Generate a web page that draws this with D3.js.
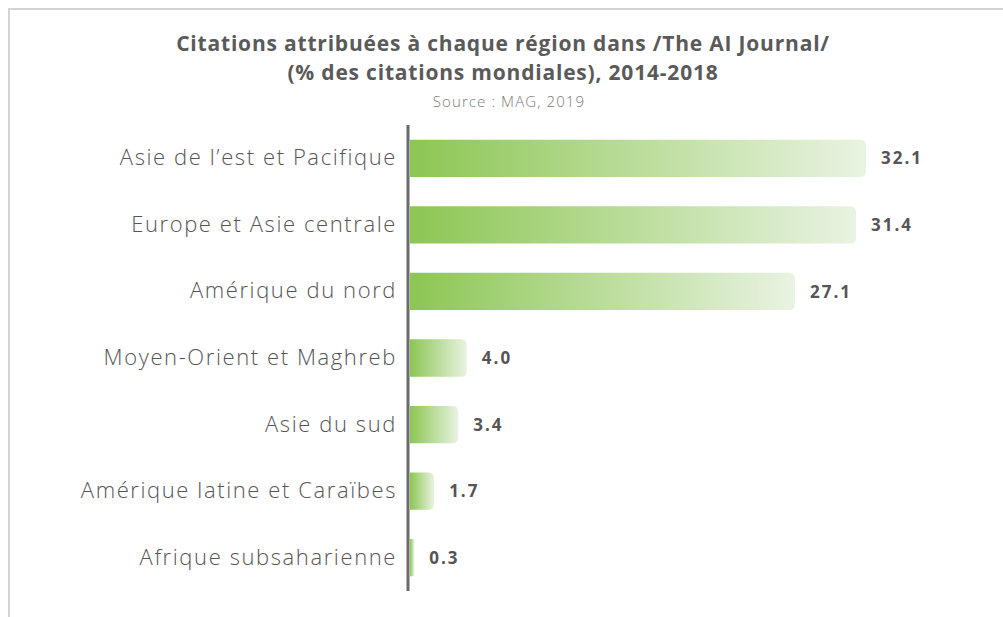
<!DOCTYPE html>
<html>
<head>
<meta charset="utf-8">
<script src="https://cdn.jsdelivr.net/npm/d3@7"></script>
<style>
  body { margin: 0; background: #fff; }
</style>
</head>
<body>
<div id="chart"></div>
<script>
const regions = [
  "Asie de l\u2019est et Pacifique",
  "Europe et Asie centrale",
  "Amérique du nord",
  "Moyen-Orient et Maghreb",
  "Asie du sud",
  "Amérique latine et Caraïbes",
  "Afrique subsaharienne"
];
const shares = [32.1, 31.4, 27.1, 4.0, 3.4, 1.7, 0.3];
const titleLines = [
  "Citations attribuées à chaque région dans /The AI Journal/",
  "(% des citations mondiales), 2014-2018"
];
const source = "Source : MAG, 2019";

const data = regions.map((r, i) => ({region: r, value: shares[i]}));

const width = 1003, height = 617;
const x0 = 410;
const font = "'Open Sans', Lato, sans-serif";

const svg = d3.select("#chart").append("svg")
    .attr("width", width)
    .attr("height", height);

// frame lines (top + left)
svg.append("path")
    .attr("d", `M9,${height} V9 H${width}`)
    .attr("fill", "none")
    .attr("stroke", "#d4d4d4")
    .attr("stroke-width", 2);

const defs = svg.append("defs");
const grad = defs.append("linearGradient")
    .attr("id", "barGrad")
    .attr("x1", "0").attr("x2", "1").attr("y1", "0").attr("y2", "0");
grad.append("stop").attr("offset", "0%").attr("stop-color", "#8cc653");
grad.append("stop").attr("offset", "100%").attr("stop-color", "#e9f3e2");

svg.append("g")
    .attr("font-family", font)
    .attr("font-weight", "bold")
    .attr("fill", "#5a5a5a")
    .attr("font-size", 21)
    .attr("letter-spacing", 0.8)
    .attr("text-anchor", "middle")
  .selectAll("text")
  .data(titleLines)
  .join("text")
    .attr("x", 503)
    .attr("y", (d, i) => 51 + i * 29)
    .text(d => d);

svg.append("text")
    .attr("x", 509)
    .attr("y", 107)
    .attr("text-anchor", "middle")
    .attr("font-family", font)
    .attr("font-weight", 300)
    .attr("font-size", 15)
    .attr("letter-spacing", 1.1)
    .attr("fill", "#7a7a7a")
    .text(source);

const x = d3.scaleLinear()
    .domain([0, 32.1])
    .range([x0, 866]);

const y = d3.scaleBand()
    .domain(regions)
    .range([125, 591])
    .paddingInner(0.44)
    .paddingOuter(0.22);

function barPath(d) {
  const x1 = x(d.value), yt = y(d.region), h = y.bandwidth();
  const r = Math.min(6, (x1 - x0) / 2);
  return `M${x0},${yt} H${x1 - r} Q${x1},${yt} ${x1},${yt + r} V${yt + h - r} Q${x1},${yt + h} ${x1 - r},${yt + h} H${x0} Z`;
}

svg.append("g")
  .selectAll("path")
  .data(data)
  .join("path")
    .attr("d", barPath)
    .attr("fill", "url(#barGrad)");

svg.append("g")
    .attr("font-family", font)
    .attr("font-size", 17)
    .attr("font-weight", "bold")
    .attr("letter-spacing", 2)
    .attr("fill", "#555")
  .selectAll("text")
  .data(data)
  .join("text")
    .attr("x", d => x(d.value) + 15)
    .attr("y", d => y(d.region) + y.bandwidth() / 2)
    .attr("dy", "0.36em")
    .text(d => d.value.toFixed(1));

const yAxis = svg.append("g")
    .attr("transform", `translate(${x0 - 2},0)`)
    .call(d3.axisLeft(y).tickSize(0).tickPadding(11));
yAxis.select(".domain")
    .attr("d", `M0,125 V591`)
    .attr("stroke", "#6b6b6b")
    .attr("stroke-width", 3);
yAxis.selectAll("text")
    .attr("font-family", font)
    .attr("font-weight", 300)
    .attr("font-size", 22)
    .attr("letter-spacing", 1.6)
    .attr("fill", "#555");
</script>
</body>
</html>
